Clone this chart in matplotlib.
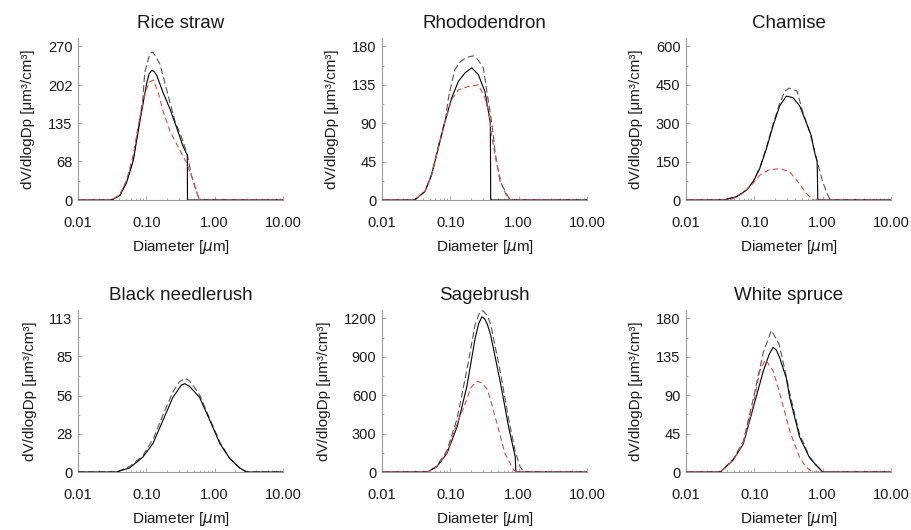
import numpy as np
import matplotlib
matplotlib.use("Agg")
import matplotlib.pyplot as plt
from matplotlib.ticker import FixedLocator, LogLocator, NullFormatter, FixedFormatter

plt.rcParams['font.family'] = ['Liberation Sans', 'DejaVu Sans']

titles = ["Rice straw", "Rhododendron", "Chamise",
          "Black needlerush", "Sagebrush", "White spruce"]
ymax = [270, 180, 600, 113, 1200, 180]
yticks = [[0, 68, 135, 202, 270], [0, 45, 90, 135, 180], [0, 150, 300, 450, 600],
          [0, 28, 56, 85, 113], [0, 300, 600, 900, 1200], [0, 45, 90, 135, 180]]
xticks = [0.01, 0.1, 1.0, 10.0]
xticklabels = ["0.01", "0.10", "1.00", "10.00"]

# Measured (black solid)
meas_d = [
    [0.01, 0.031, 0.041, 0.0515, 0.0645, 0.076, 0.0885, 0.101, 0.11, 0.12, 0.13, 0.142,
     0.177, 0.222, 0.278, 0.348, 0.398, 0.40, 10.0],
    [0.01, 0.030, 0.0425, 0.053, 0.0667, 0.0835, 0.105, 0.131, 0.164, 0.206, 0.257,
     0.321, 0.36, 0.385, 0.39, 10.0],
    [0.01, 0.035, 0.055, 0.077, 0.096, 0.12, 0.15, 0.188, 0.235, 0.294, 0.367, 0.46,
     0.575, 0.68, 0.76, 0.83, 0.85, 10.0],
    [0.01, 0.0365, 0.057, 0.089, 0.125, 0.175, 0.245, 0.326, 0.365, 0.43, 0.60, 0.85,
     1.19, 1.66, 2.32, 2.9, 10.0],
    [0.01, 0.046, 0.063, 0.089, 0.126, 0.175, 0.23, 0.26, 0.29, 0.32, 0.35, 0.39, 0.54,
     0.71, 0.89, 0.91, 10.0],
    [0.01, 0.032, 0.049, 0.069, 0.096, 0.135, 0.165, 0.188, 0.21, 0.235, 0.294, 0.33,
     0.46, 0.64, 0.8, 0.9, 1.0, 10.0],
]
meas_v = [
    [0, 0, 8, 31, 70, 121, 166, 205, 222, 228, 226, 219,
     188, 160, 127, 93, 79, 0, 0],
    [0, 0, 10, 29, 61, 92, 120, 139, 149, 155, 147,
     127, 104, 90, 0, 0],
    [0, 0, 13, 39, 71, 123, 200, 290, 368, 406, 400, 368,
     303, 252, 187, 150, 0, 0],
    [0, 0, 3, 11, 21, 38, 55, 64, 65, 63, 55, 38,
     21, 10, 3, 0, 0],
    [0, 0, 40, 145, 356, 672, 1042, 1160, 1213, 1195, 1150, 1068, 699,
     356, 119, 0, 0],
    [0, 0, 14, 33, 75, 118, 138, 146, 143, 134, 110, 87,
     41, 17, 8, 4, 0, 0],
]

# Fit (gray dashed)
fit_d = [
    [0.01, 0.031, 0.041, 0.0515, 0.0645, 0.076, 0.0885, 0.095, 0.113, 0.125, 0.158,
     0.20, 0.263, 0.329, 0.398, 0.46, 0.546, 0.60, 10.0],
    [0.01, 0.030, 0.0425, 0.053, 0.0667, 0.085, 0.093, 0.105, 0.117, 0.14, 0.17, 0.217,
     0.25, 0.304, 0.352, 0.39, 0.426, 0.45, 0.533, 0.71, 0.8, 10.0],
    [0.01, 0.035, 0.055, 0.077, 0.096, 0.12, 0.15, 0.188, 0.235, 0.28, 0.321, 0.42,
     0.514, 0.65, 0.79, 1.0, 1.19, 1.3, 10.0],
    [0.01, 0.037, 0.057, 0.089, 0.125, 0.175, 0.245, 0.30, 0.365, 0.43, 0.60, 0.85,
     1.19, 1.66, 2.32, 3.0, 10.0],
    [0.01, 0.046, 0.063, 0.089, 0.126, 0.175, 0.23, 0.27, 0.30, 0.35, 0.39, 0.54,
     0.71, 0.89, 1.05, 1.2, 10.0],
    [0.01, 0.032, 0.049, 0.069, 0.096, 0.135, 0.178, 0.23, 0.294, 0.33, 0.46, 0.64,
     0.85, 1.0, 10.0],
]
fit_v = [
    [0, 0, 8, 32, 72, 124, 175, 225, 258, 260, 239,
     192, 138, 110, 79, 42, 14, 0, 0],
    [0, 0, 10, 30, 63, 95, 118, 138, 153, 162, 167, 169,
     165, 155, 121, 99, 76, 57, 22, 3, 0, 0],
    [0, 0, 13, 40, 73, 126, 205, 296, 378, 425, 437, 426,
     342, 264, 174, 71, 19, 0, 0],
    [0, 0, 4, 12, 24, 42, 59, 66, 69, 67, 57, 39,
     22, 10, 3, 0, 0],
    [0, 0, 45, 165, 420, 800, 1150, 1250, 1260, 1220, 1150, 780,
     420, 160, 40, 0, 0],
    [0, 0, 15, 36, 85, 140, 166, 150, 112, 92, 44, 18,
     6, 0, 0],
]

# Model (red dashed)
mod_d = [
    [0.01, 0.031, 0.041, 0.0515, 0.0645, 0.076, 0.0885, 0.10, 0.113, 0.127, 0.15,
     0.177, 0.222, 0.311, 0.39, 0.46, 0.546, 0.60, 10.0],
    [0.01, 0.030, 0.0425, 0.053, 0.0667, 0.0835, 0.105, 0.131, 0.18, 0.257, 0.321,
     0.37, 0.40, 0.48, 0.565, 0.67, 0.75, 10.0],
    [0.01, 0.044, 0.068, 0.091, 0.12, 0.158, 0.235, 0.329, 0.435, 0.575, 0.74, 10.0],
    [],
    [0.01, 0.046, 0.063, 0.089, 0.126, 0.16, 0.20, 0.245, 0.28, 0.35, 0.48, 0.63,
     0.85, 1.0, 10.0],
    [0.01, 0.032, 0.049, 0.069, 0.096, 0.12, 0.145, 0.19, 0.23, 0.33, 0.46, 0.57,
     0.70, 10.0],
]
mod_v = [
    [0, 0, 10, 35, 80, 130, 170, 195, 208, 211, 188,
     155, 121, 87, 65, 42, 14, 0, 0],
    [0, 0, 10, 29, 61, 92, 118, 129, 133, 135, 120,
     101, 76, 41, 18, 4, 0, 0],
    [0, 0, 26, 58, 97, 116, 123, 110, 71, 26, 0, 0],
    [],
    [0, 0, 40, 145, 382, 514, 660, 710, 700, 646, 382, 145,
     13, 0, 0],
    [0, 0, 14, 34, 78, 118, 132, 118, 95, 48, 17, 6,
     0, 0],
]

fig = plt.figure(figsize=(9.12, 5.30), dpi=100)
lefts = [78, 382, 686]
bottoms = [200, 472]
W, H = 205, 162
axc = "#9a9a9a"
txt = "#1a1a1a"

for i in range(6):
    r, c = divmod(i, 3)
    ax = fig.add_axes([lefts[c] / 912, 1 - bottoms[r] / 530, W / 912, H / 530])
    ax.set_xscale('log')
    ax.plot(meas_d[i], meas_v[i], color='black', lw=0.8, zorder=3)
    ax.plot(fit_d[i], fit_v[i], color='#555555', lw=0.8, dashes=(6, 3), zorder=2)
    if mod_d[i]:
        ax.plot(mod_d[i], mod_v[i], color='#e8483e', lw=0.8, dashes=(5, 3), zorder=4)
    ax.set_xlim(0.01, 10.0)
    ax.set_ylim(0, ymax[i] * 1.055)
    for s in ['top', 'right']:
        ax.spines[s].set_visible(False)
    for s in ['left', 'bottom']:
        ax.spines[s].set_color(axc)
        ax.spines[s].set_linewidth(0.8)
    ax.xaxis.set_major_locator(FixedLocator(xticks))
    ax.xaxis.set_major_formatter(FixedFormatter(xticklabels))
    ax.xaxis.set_minor_locator(LogLocator(base=10, subs=np.arange(2, 10)))
    ax.xaxis.set_minor_formatter(NullFormatter())
    yt = yticks[i]
    ax.yaxis.set_major_locator(FixedLocator(yt))
    ax.yaxis.set_major_formatter(FixedFormatter([str(v) for v in yt]))
    ax.yaxis.set_minor_locator(FixedLocator([(yt[k] + yt[k + 1]) / 2 for k in range(4)]))
    ax.tick_params(axis='x', which='major', direction='in', length=3, width=0.6,
                   color=axc, pad=11.5, labelsize=10.5, labelcolor=txt)
    ax.tick_params(axis='x', which='minor', direction='in', length=1.5, width=0.6, color=axc)
    ax.tick_params(axis='y', which='major', direction='in', length=3, width=0.6,
                   color=axc, pad=4, labelsize=10.5, labelcolor=txt)
    ax.tick_params(axis='y', which='minor', direction='in', length=1.5, width=0.6, color=axc)
    ax.set_title(titles[i], fontsize=13.5, color=txt, pad=7)
    ax.set_xlabel(r"Diameter [$\mu$m]", fontsize=11, color=txt, labelpad=5.5)
    ax.set_ylabel("dV/dlogDp [μm³/cm³]", fontsize=11, color=txt, labelpad=9)

fig.savefig("out.png", dpi=100)
